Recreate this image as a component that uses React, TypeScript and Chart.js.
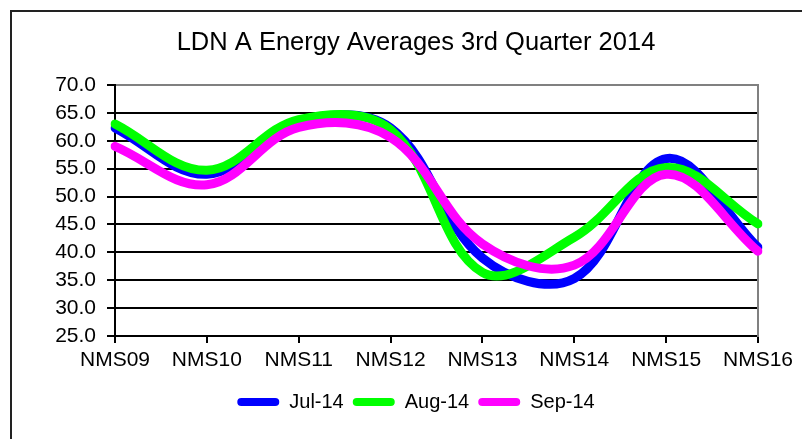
import React, { useEffect, useRef } from 'react';
import { Chart, registerables } from 'chart.js';

Chart.register(...registerables);

const titleText = 'LDN A Energy Averages 3rd Quarter 2014';
const categories = ['NMS09', 'NMS10', 'NMS11', 'NMS12', 'NMS13', 'NMS14', 'NMS15', 'NMS16'];
const jul14 = [62.3, 54.0, 63.5, 62.3, 39.0, 35.3, 56.8, 40.9];
const aug14 = [63.0, 54.7, 63.8, 62.0, 36.4, 42.7, 55.2, 45.1];
const sep14 = [59.0, 52.1, 62.4, 60.6, 41.5, 37.7, 54.0, 40.2];
const seriesNames = ['Jul-14', 'Aug-14', 'Sep-14'];
const seriesColors = ['#0000FF', '#00FF00', '#FF00FF'];
const yMin = 25;
const yMax = 70;
const yStep = 5;

const FONT = "'Liberation Sans', Arial, sans-serif";

export default function App() {
  const canvasRef = useRef<HTMLCanvasElement | null>(null);

  useEffect(() => {
    if (!canvasRef.current) return;
    const values = [jul14, aug14, sep14];
    const chart = new Chart(canvasRef.current, {
      type: 'line',
      data: {
        labels: categories,
        datasets: values.map((v, i) => ({
          label: seriesNames[i],
          data: v,
          borderColor: seriesColors[i],
          backgroundColor: seriesColors[i],
          borderWidth: 9,
          pointRadius: 0,
          pointHoverRadius: 0,
          tension: 0.37,
          fill: false,
          borderCapStyle: 'round' as const,
          borderJoinStyle: 'round' as const,
          order: 3 - i,
        })),
      },
      options: {
        responsive: false,
        animation: false,
        events: [],
        layout: { padding: { left: 30, right: 0, top: 0, bottom: 17 } },
        plugins: {
          tooltip: { enabled: false },
          title: {
            display: true,
            text: titleText,
            color: '#000',
            font: { family: FONT, size: 25.5, weight: 'normal' },
            padding: { top: 28, bottom: 26.4 },
          },
          legend: {
            display: true,
            position: 'bottom',
            labels: {
              color: '#000',
              font: { family: FONT, size: 20 },
              boxWidth: 42,
              boxHeight: 8,
              padding: 9,
              useBorderRadius: true,
              borderRadius: 4,
              sort: (a: any, b: any) => a.datasetIndex - b.datasetIndex,
              generateLabels: (c: any) =>
                Chart.defaults.plugins.legend.labels
                  .generateLabels(c)
                  .map((l: any) => ({ ...l, lineWidth: 0, fillStyle: l.strokeStyle })),
            },
          },
        },
        scales: {
          x: {
            type: 'category',
            offset: false,
            grid: {
              display: true,
              drawOnChartArea: false,
              drawTicks: true,
              tickLength: 7,
              tickColor: '#000',
              tickWidth: 2,
              color: '#000',
              lineWidth: 2,
            },
            border: { display: true, color: '#000', width: 2 },
            ticks: {
              color: '#000',
              font: { family: FONT, size: 21 },
              padding: 5,
              maxRotation: 0,
              autoSkip: false,
            },
            afterFit: (s: any) => {
              s.height = 47;
            },
          },
          y: {
            type: 'linear',
            position: 'left',
            min: yMin,
            max: yMax,
            grid: {
              color: (ctx: any) => (ctx.tick && ctx.tick.value === yMax ? '#808080' : '#000'),
              lineWidth: 2,
              tickLength: 8,
              tickColor: '#000',
              tickWidth: 2,
            },
            border: { display: true, color: '#000', width: 2 },
            ticks: {
              stepSize: yStep,
              autoSkip: false,
              color: '#000',
              font: { family: FONT, size: 21 },
              padding: 11,
              callback: (v: any) => Number(v).toFixed(1),
            },
            afterFit: (s: any) => {
              s.width = 85;
            },
          },
          yRight: {
            type: 'linear',
            position: 'right',
            min: 0,
            max: 1,
            grid: { display: true, drawOnChartArea: false, drawTicks: false, tickLength: 0 },
            border: { display: true, color: '#808080', width: 2 },
            ticks: { display: false },
            afterFit: (s: any) => {
              s.width = 44;
            },
          },
        },
      } as any,
    });
    return () => chart.destroy();
  }, []);

  return (
    <div
      style={{
        position: 'fixed',
        left: 0,
        top: 0,
        width: 802,
        height: 439,
        overflow: 'hidden',
        background: '#fff',
      }}
    >
      <canvas
        ref={canvasRef}
        width={802}
        height={439}
        style={{ position: 'absolute', left: 0, top: 0, width: 802, height: 439 }}
      />
      <div
        style={{
          position: 'absolute',
          left: 10,
          top: 10,
          width: 1200,
          height: 1200,
          borderLeft: '2px solid #222',
          borderTop: '2px solid #222',
          pointerEvents: 'none',
        }}
      />
    </div>
  );
}
